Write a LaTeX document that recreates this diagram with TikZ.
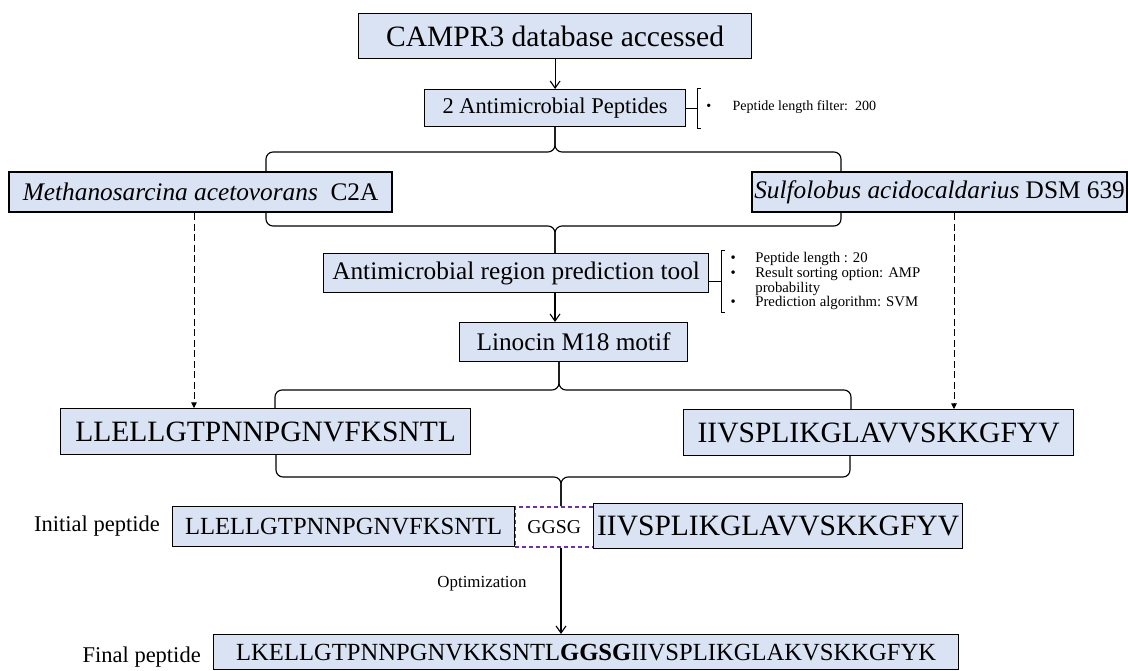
\documentclass[tikz,border=0pt]{standalone}
\usepackage{fontspec}
\setmainfont{Liberation Serif}
\usepackage{xcolor}
\definecolor{boxfill}{HTML}{DAE3F3}
\definecolor{linkercolor}{HTML}{7030A0}
\usepackage{tikz}
\usetikzlibrary{arrows.meta, calc}

\tikzset{
  stagebox/.style={draw, fill=boxfill, line width=0.8pt, inner sep=0pt, anchor=north west},
  orgbox/.style={stagebox, line width=1.5pt},
  linkerbox/.style={draw=linkercolor, dash pattern=on 3pt off 2pt, line width=1.1pt, inner sep=0pt, anchor=north west},
  flow/.style={line width=0.8pt, -{Straight Barb[length=5pt,width=7pt]}},
  hint/.style={line width=0.6pt, dash pattern=on 5pt off 2.5pt, -{Triangle[length=4pt,width=4pt]}},
  bracket/.style={line width=0.8pt, rounded corners=5pt},
  notelist/.style={inner sep=0pt, font=\fontsize{10.5}{10.5}\selectfont, align=left},
}

\begin{document}
\begin{tikzpicture}[x=0.025cm, y=-0.025cm]
  \useasboundingbox (0,0) rectangle (1128,670);

  % stages
  \node[stagebox, minimum width=9.825cm, minimum height=1.125cm, font=\fontsize{21}{25}\selectfont] (campr) at (358,13) {CAMPR3 database accessed};
  \node[stagebox, minimum width=6.525cm, minimum height=0.925cm, font=\fontsize{16}{19}\selectfont] (amp) at (424,89) {2 Antimicrobial Peptides};
  \node[orgbox, minimum width=9.575cm, minimum height=1.0cm, font=\fontsize{18}{21}\selectfont] (meth) at (8,171) {\textit{Methanosarcina acetovorans}\ \ C2A};
  \node[orgbox, minimum width=9.375cm, minimum height=1.0cm, font=\fontsize{18}{21}\selectfont] (sulf) at (751,171) {\textit{Sulfolobus acidocaldarius} DSM 639};
  \node[stagebox, minimum width=9.625cm, minimum height=0.975cm, font=\fontsize{18}{21}\selectfont] (tool) at (323,253) {Antimicrobial region prediction tool};
  \node[stagebox, minimum width=5.7cm, minimum height=0.975cm, font=\fontsize{18}{21}\selectfont] (motif) at (459,322) {Linocin M18 motif};
  \node[stagebox, minimum width=10.25cm, minimum height=1.15cm, font=\fontsize{21}{25}\selectfont] (llelA) at (60,408) {LLELLGTPNNPGNVFKSNTL};
  \node[stagebox, minimum width=9.75cm, minimum height=1.15cm, font=\fontsize{21}{25}\selectfont] (iivsA) at (683,409) {IIVSPLIKGLAVVSKKGFYV};

  % joined peptide
  \node[linkerbox, minimum width=1.975cm, minimum height=1.0cm, font=\fontsize{14}{16}\selectfont] (ggsg) at (514,506) {GGSG};
  \node[stagebox, minimum width=8.55cm, minimum height=1.0cm, font=\fontsize{17.5}{20}\selectfont] (llelB) at (172,506) {LLELLGTPNNPGNVFKSNTL};
  \node[stagebox, minimum width=9.225cm, minimum height=1.125cm, font=\fontsize{21}{25}\selectfont] (iivsB) at (593,503) {IIVSPLIKGLAVVSKKGFYV};
  \node[stagebox, minimum width=18.625cm, minimum height=0.875cm, font=\fontsize{17.5}{20}\selectfont] (final) at (213,634) {LKELLGTPNNPGNVKKSNTL\textbf{GGSG}IIVSPLIKGLAKVSKKGFYK};

  \node[anchor=east, inner sep=0pt, font=\fontsize{16}{18}\selectfont] (initlabel) at ([shift={(-12,0)}]llelB.west) {Initial peptide};
  \node[anchor=east, inner sep=0pt, font=\fontsize{16}{18}\selectfont] (finallabel) at ([shift={(-12,5)}]final.west) {Final peptide};
  \node[inner sep=0pt, font=\fontsize{12}{14}\selectfont] (optlabel) at (482,584) {Optimization};

  % parameter notes
  \draw[line width=0.8pt] (amp.east) -- ++(11,0) coordinate (ampk);
  \draw[line width=0.8pt] ([shift={(4,-20)}]ampk) -- ++(-4,0) -- ++(0,40) -- ++(4,0);
  \node[notelist, anchor=west, font=\fontsize{10}{10}\selectfont] (ampnote) at ([shift={(9,-1)}]ampk) {\textbullet\hspace{15pt}Peptide length filter:\ \ 200};

  \draw[line width=0.8pt] ([shift={(0,8)}]tool.east) -- ++(12,0) coordinate (toolk);
  \draw[line width=0.8pt] ([shift={(4,-31)}]toolk) -- ++(-4,0) -- ++(0,62) -- ++(4,0);
  \node[notelist, anchor=north west] (toolnote) at ([shift={(9,-29)}]toolk) {%
    \begin{tabular}{@{}l@{\hspace{14pt}}l@{}}
      \textbullet & Peptide length : 20\\
      \textbullet & Result sorting option: AMP\\
                  & probability\\
      \textbullet & Prediction algorithm: SVM
    \end{tabular}};

  % arrows
  \coordinate (spine) at (555,0);
  \draw[flow] (campr.south) -- (campr.south |- amp.north);
  \draw[flow] (spine |- tool.south) -- (spine |- motif.north);

  \coordinate (hl) at (194,0);
  \coordinate (hr) at (954,0);
  \draw[hint] (hl |- meth.south) -- (hl |- llelA.north);
  \draw[hint] (hr |- sulf.south) -- (hr |- iivsA.north);

  % braces
  \coordinate (b1l) at (266,171);
  \coordinate (b1r) at (841,171);
  \coordinate (b1m) at (555,152);
  \draw[bracket] (b1l) |- (b1m) -- (b1m |- amp.south);
  \draw[bracket] (b1r) |- (b1m) -- (b1m |- amp.south);

  \coordinate (b2l) at (266,211);
  \coordinate (b2r) at (841,211);
  \coordinate (b2m) at (555,226);
  \draw[bracket] (b2l) |- (b2m) -- (b2m |- tool.north);
  \draw[bracket] (b2r) |- (b2m) -- (b2m |- tool.north);

  \coordinate (b3l) at (275,408);
  \coordinate (b3r) at (851,409);
  \coordinate (b3m) at (559,390);
  \draw[bracket] (b3l) |- (b3m) -- (b3m |- motif.south);
  \draw[bracket] (b3r) |- (b3m) -- (b3m |- motif.south);

  \coordinate (b4l) at (276,454);
  \coordinate (b4r) at (850,455);
  \coordinate (b4m) at (561,477);
  \draw[bracket] (b4l) |- (b4m) -- (b4m |- ggsg.north);
  \draw[bracket] (b4r) |- (b4m) -- (b4m |- ggsg.north);

  \draw[flow] (b4m |- ggsg.south) -- (b4m |- final.north);
\end{tikzpicture}
\end{document}
